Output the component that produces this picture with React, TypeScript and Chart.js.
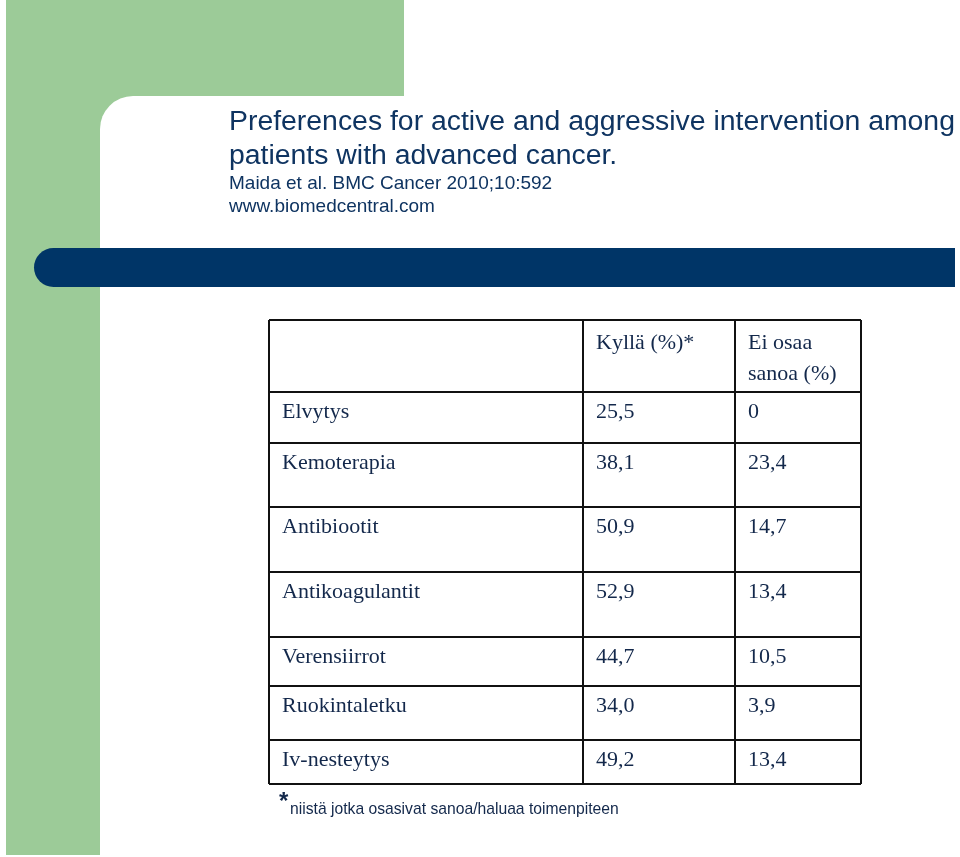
import React, { useEffect, useRef } from "react";
import { Chart, registerables } from "chart.js";

Chart.register(...registerables);

// ---- data ----
const titleLines = [
  "Preferences for active and aggressive intervention among",
  "patients with advanced cancer.",
];
const sourceLines = ["Maida et al. BMC Cancer 2010;10:592", "www.biomedcentral.com"];
const columnHeaders = ["", "Kyllä (%)*", "Ei osaa\nsanoa (%)"];
const interventions = [
  "Elvytys",
  "Kemoterapia",
  "Antibiootit",
  "Antikoagulantit",
  "Verensiirrot",
  "Ruokintaletku",
  "Iv-nesteytys",
];
const yesPct = [25.5, 38.1, 50.9, 52.9, 44.7, 34.0, 49.2];
const dontKnowPct = [0, 23.4, 14.7, 13.4, 10.5, 3.9, 13.4];
const footnoteMark = "*";
const footnote = "niistä jotka osasivat sanoa/haluaa toimenpiteen";

// ---- layout (table geometry in px units of the scales) ----
const colEdges = [0, 314, 466, 592];
const rowEdges = [0, 72, 123, 187, 252, 317, 366, 420, 464];

const fmt = (v: number) => (v === 0 ? "0" : v.toFixed(1).replace(".", ","));

const SANS = '"Liberation Sans", Arial, sans-serif';
const SERIF = '"Liberation Serif", "Times New Roman", serif';
const GREEN = "#9ccb98";
const NAVY = "#003567";
const TITLE_COLOR = "#0f3461";
const TABLE_TEXT = "#13284b";

const slidePlugin = {
  id: "slideBackground",
  beforeDraw(chart: any) {
    const ctx = chart.ctx as CanvasRenderingContext2D;
    ctx.save();
    ctx.fillStyle = "#ffffff";
    ctx.fillRect(0, 0, chart.width, chart.height);
    // green L-shape
    ctx.fillStyle = GREEN;
    ctx.fillRect(6, 0, 398, 96);
    ctx.fillRect(6, 0, 94, 855);
    ctx.fillRect(100, 96, 33, 33);
    ctx.fillStyle = "#ffffff";
    ctx.beginPath();
    ctx.moveTo(133, 129);
    ctx.arc(133, 129, 33, Math.PI, 1.5 * Math.PI);
    ctx.closePath();
    ctx.fill();
    // navy bar
    ctx.fillStyle = NAVY;
    ctx.beginPath();
    (ctx as any).roundRect(34, 248, 921, 39, [20, 0, 0, 20]);
    ctx.fill();
    // title texts
    ctx.fillStyle = TITLE_COLOR;
    ctx.textBaseline = "alphabetic";
    ctx.textAlign = "left";
    ctx.font = `28.4px ${SANS}`;
    ctx.fillText(titleLines[0], 229, 130);
    ctx.fillText(titleLines[1], 229, 164);
    ctx.font = `19px ${SANS}`;
    ctx.fillText(sourceLines[0], 229, 189);
    ctx.fillText(sourceLines[1], 229, 212);
    ctx.restore();
  },
};

const tablePlugin = {
  id: "tableText",
  afterDraw(chart: any) {
    const ctx = chart.ctx as CanvasRenderingContext2D;
    const xs = chart.scales.x;
    const ys = chart.scales.y;
    const pad = 13;
    ctx.save();
    ctx.fillStyle = TABLE_TEXT;
    ctx.textAlign = "left";
    ctx.textBaseline = "alphabetic";
    ctx.font = `22px ${SERIF}`;
    // header
    const headTop = ys.getPixelForValue(rowEdges[0]);
    columnHeaders.forEach((h, c) => {
      if (!h) return;
      const x = xs.getPixelForValue(colEdges[c]) + pad;
      h.split("\n").forEach((line, i) => ctx.fillText(line, x, headTop + 29 + i * 31));
    });
    // rows
    interventions.forEach((name, r) => {
      const top = ys.getPixelForValue(rowEdges[r + 1]);
      const cells = [name, fmt(yesPct[r]), fmt(dontKnowPct[r])];
      cells.forEach((t, c) => {
        ctx.fillText(t, xs.getPixelForValue(colEdges[c]) + pad, top + 26);
      });
    });
    // footnote
    const bottom = ys.getPixelForValue(rowEdges[rowEdges.length - 1]);
    const left = xs.getPixelForValue(colEdges[0]);
    ctx.font = `bold 24px ${SANS}`;
    ctx.fillText(footnoteMark, left + 10, bottom + 25);
    ctx.font = `15.7px ${SANS}`;
    ctx.fillText(footnote, left + 21, bottom + 30);
    ctx.restore();
  },
};

export default function App() {
  const ref = useRef<HTMLCanvasElement | null>(null);
  useEffect(() => {
    if (!ref.current) return;
    const gridAxis = (max: number, edges: number[], reverse: boolean) => ({
      type: "linear" as const,
      min: 0,
      max,
      reverse,
      afterBuildTicks: (s: any) => {
        s.ticks = edges.map((v) => ({ value: v }));
      },
      ticks: { display: false },
      grid: { color: "#111111", lineWidth: 2, drawTicks: false },
      border: { display: false },
    });
    const chart = new Chart(ref.current, {
      type: "scatter",
      data: { datasets: [] },
      options: {
        responsive: false,
        animation: false,
        devicePixelRatio: 1,
        layout: { padding: { left: 269, top: 320, right: 99, bottom: 73 } },
        plugins: {
          legend: { display: false },
          tooltip: { enabled: false },
          title: { display: false },
        },
        scales: {
          x: gridAxis(colEdges[colEdges.length - 1], colEdges, false) as any,
          y: gridAxis(rowEdges[rowEdges.length - 1], rowEdges, true) as any,
        },
      },
      plugins: [slidePlugin, tablePlugin],
    });
    return () => chart.destroy();
  }, []);
  return (
    <div style={{ position: "absolute", left: 0, top: 0, width: 960, height: 857 }}>
      <canvas ref={ref} width={960} height={857} style={{ display: "block", width: 960, height: 857 }} />
    </div>
  );
}
